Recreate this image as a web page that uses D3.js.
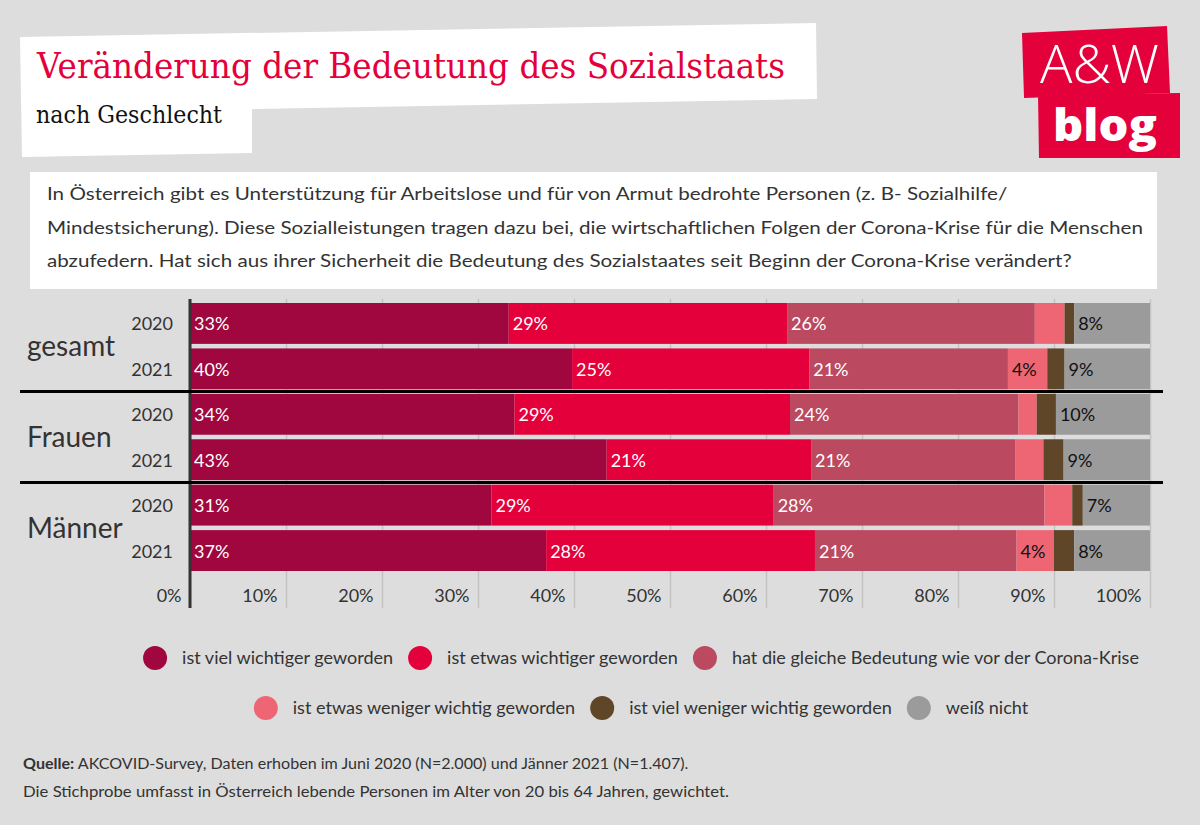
<!DOCTYPE html>
<html><head><meta charset="utf-8">
<script src="https://cdn.jsdelivr.net/npm/d3@7"></script>
<style>
html,body{margin:0;padding:0;background:#dddddd;}
svg{display:block;}
</style></head><body>
<svg id="c" width="1200" height="825"></svg>
<script>
// ---------- DATA ----------
const groups = ["gesamt", "Frauen", "Männer"];
const years = ["2020", "2021"];
const categories = [
  "ist viel wichtiger geworden",
  "ist etwas wichtiger geworden",
  "hat die gleiche Bedeutung wie vor der Corona-Krise",
  "ist etwas weniger wichtig geworden",
  "ist viel weniger wichtig geworden",
  "weiß nicht"
];
const colors = ["#a0073f", "#e4003b", "#bb4960", "#ee6674", "#5f4628", "#9b9b9b"];
// rows in order: gesamt 2020, gesamt 2021, Frauen 2020, Frauen 2021, Männer 2020, Männer 2021
const vielWichtiger   = [33.2, 39.8, 33.8, 43.4, 31.4, 37.1];
const etwasWichtiger  = [29.0, 24.7, 28.7, 21.3, 29.4, 28.0];
const gleich          = [25.8, 20.7, 23.8, 21.3, 28.2, 21.0];
const etwasWeniger    = [3.1, 4.1, 1.9, 2.9, 2.9, 3.9];
const vielWeniger     = [1.0, 1.8, 2.0, 2.1, 1.1, 2.1];
const weissNicht      = [7.9, 8.9, 9.8, 9.0, 7.0, 7.9];
const tickValues = [0, 10, 20, 30, 40, 50, 60, 70, 80, 90, 100];
const tickLabels = ["0%", "10%", "20%", "30%", "40%", "50%", "60%", "70%", "80%", "90%", "100%"];

const title = "Veränderung der Bedeutung des Sozialstaats";
const subtitle = "nach Geschlecht";
const questionLines = [
  "In Österreich gibt es Unterstützung für Arbeitslose und für von Armut bedrohte Personen (z. B- Sozialhilfe/",
  "Mindestsicherung). Diese Sozialleistungen tragen dazu bei, die wirtschaftlichen Folgen der Corona-Krise für die Menschen",
  "abzufedern. Hat sich aus ihrer Sicherheit die Bedeutung des Sozialstaates seit Beginn der Corona-Krise verändert?"
];
const sourceBold = "Quelle:";
const sourceLine1 = " AKCOVID-Survey, Daten erhoben im Juni 2020 (N=2.000) und Jänner 2021 (N=1.407).";
const sourceLine2 = "Die Stichprobe umfasst in Österreich lebende Personen im Alter von 20 bis 64 Jahren, gewichtet.";

// ---------- BUILD ----------
const series = [vielWichtiger, etwasWichtiger, gleich, etwasWeniger, vielWeniger, weissNicht];
const rows = [];
groups.forEach((g, gi) => years.forEach((y, yi) => {
  const i = gi * 2 + yi;
  const r = { id: g + "-" + y, group: g, year: y };
  categories.forEach((c, ci) => r[c] = series[ci][i]);
  rows.push(r);
}));

const svg = d3.select("#c");
const BODY = "Lato, 'Noto Sans', sans-serif";

// Title box
svg.append("polygon")
  .attr("points", "20,37 816,23 817,99 252,109 252,153 22,157")
  .attr("fill", "#ffffff");
svg.append("text").attr("x", 37).attr("y", 78)
  .attr("font-family", "'DejaVu Serif', serif").attr("font-size", 36)
  .attr("fill", "#e4003b").attr("textLength", 748).attr("lengthAdjust", "spacingAndGlyphs")
  .text(title);
svg.append("text").attr("x", 36).attr("y", 123)
  .attr("font-family", "'DejaVu Serif', serif").attr("font-size", 24)
  .attr("fill", "#111").attr("textLength", 186).attr("lengthAdjust", "spacingAndGlyphs")
  .text(subtitle);

// Logo
svg.append("polygon").attr("points", "1022,33 1167,26 1170,93 1024,98").attr("fill", "#e4003b");
svg.append("polygon").attr("points", "1038,95 1180,93 1180,158 1039,158").attr("fill", "#e4003b");
svg.append("text").attr("x", 1040).attr("y", 83)
  .attr("font-family", "'Open Sans', sans-serif").attr("font-weight", 300).attr("font-size", 54)
  .attr("fill", "#fff").attr("textLength", 119).attr("lengthAdjust", "spacingAndGlyphs").text("A&W");
svg.append("text").attr("x", 1053).attr("y", 141)
  .attr("font-family", "'Open Sans', sans-serif").attr("font-weight", 800).attr("font-size", 44)
  .attr("fill", "#fff").attr("textLength", 104).attr("lengthAdjust", "spacingAndGlyphs").text("blog");

// Question box
svg.append("rect").attr("x", 30).attr("y", 172).attr("width", 1127).attr("height", 117).attr("fill", "#fff");
const qT = svg.selectAll("text.q").data(questionLines).join("text").attr("class", "q")
  .attr("x", 47).attr("y", (d, i) => 200 + i * 33.5)
  .attr("font-family", BODY).attr("font-size", 18).attr("fill", "#333").text(d => d);
const qW = qT.nodes().map(n => n.getComputedTextLength());
const qF = 1096 / qW[1];
qT.attr("textLength", (d, i) => qW[i] * qF).attr("lengthAdjust", "spacingAndGlyphs");

// Scales
const x = d3.scaleLinear().domain([0, 100]).range([190, 1150]);
const yScale = d3.scaleBand().domain(rows.map(r => r.id)).range([303, 571]).paddingInner(0.1).paddingOuter(0);

// Gridlines
const gridG = svg.append("g").attr("transform", "translate(0,608)")
  .call(d3.axisBottom(x).tickValues(tickValues).tickSize(-309).tickFormat(""));
gridG.select(".domain").remove();
gridG.selectAll(".tick line").attr("stroke", "#c3c3c3").attr("stroke-width", 1.5);

// Bars
const stack = d3.stack().keys(categories)(rows);
const layers = svg.append("g").selectAll("g").data(stack).join("g")
  .attr("fill", (d, i) => colors[i]);
layers.selectAll("rect").data(d => d).join("rect")
  .attr("x", d => x(d[0])).attr("width", d => x(d[1]) - x(d[0]))
  .attr("y", d => yScale(d.data.id)).attr("height", yScale.bandwidth());

// Value labels
const labelG = svg.append("g");
stack.forEach((layer, li) => {
  labelG.selectAll(null).data(layer.filter(d => (d[1] - d[0]) >= 3.5)).join("text")
    .attr("x", d => x(d[0]) + 4)
    .attr("y", d => yScale(d.data.id) + yScale.bandwidth() / 2 + 7)
    .attr("font-family", BODY).attr("font-size", 18)
    .attr("fill", (li === 3 || li === 5) ? "#111" : "#fff")
    .text(d => Math.round(d[1] - d[0]) + "%");
});

// Axis (tick labels)
const axG = svg.append("g").attr("transform", "translate(0,580)")
  .call(d3.axisBottom(x).tickValues(tickValues).tickSize(0).tickFormat((d, i) => tickLabels[i]));
axG.select(".domain").remove();
axG.selectAll(".tick text").attr("text-anchor", "end").attr("dx", -9).attr("dy", 0).attr("y", 22)
  .attr("font-family", BODY).attr("font-size", 18).attr("fill", "#333");

// Vertical axis line
svg.append("line").attr("x1", x(0)).attr("x2", x(0)).attr("y1", 299).attr("y2", 608)
  .attr("stroke", "#333").attr("stroke-width", 3);

// Year labels
svg.append("g").selectAll("text").data(rows).join("text")
  .attr("x", 173).attr("y", d => yScale(d.id) + yScale.bandwidth() / 2 + 7)
  .attr("text-anchor", "end").attr("font-family", BODY).attr("font-size", 18).attr("fill", "#333")
  .text(d => d.year);

// Group labels + separators
groups.forEach((g, gi) => {
  const top = yScale(g + "-2020"), bot = yScale(g + "-2021") + yScale.bandwidth();
  svg.append("text").attr("x", 27).attr("y", (top + bot) / 2 + 10)
    .attr("font-family", BODY).attr("font-size", 28).attr("fill", "#333").text(g);
  if (gi > 0) {
    const yy = top - (yScale.step() - yScale.bandwidth()) / 2;
    svg.append("line").attr("x1", 20).attr("x2", 1163).attr("y1", yy).attr("y2", yy)
      .attr("stroke", "#000").attr("stroke-width", 3);
  }
});

// Legend
const legendRows = [[0, 1, 2], [3, 4, 5]];
const legG = svg.append("g");
const meas = legG.append("text").attr("font-family", BODY).attr("font-size", 17).text(categories[2]);
const legF = 407 / meas.node().getComputedTextLength();
meas.remove();
legendRows.forEach((idxs, ri) => {
  const cy = 658 + ri * 50;
  const items = idxs.map(ci => {
    const t = legG.append("text").attr("font-family", BODY).attr("font-size", 17).attr("fill", "#333")
      .attr("y", cy + 6).text(categories[ci]);
    const w = t.node().getComputedTextLength() * legF;
    t.attr("textLength", w).attr("lengthAdjust", "spacingAndGlyphs");
    return { ci, t, w };
  });
  const total = items.reduce((s, it) => s + 39 + it.w, 0) + 15 * (items.length - 1);
  let sx = 641 - total / 2;
  items.forEach(it => {
    legG.append("circle").attr("cx", sx + 12).attr("cy", cy).attr("r", 12).attr("fill", colors[it.ci]);
    it.t.attr("x", sx + 39);
    sx += 39 + it.w + 15;
  });
});

// Footer
const f2 = svg.append("text").attr("x", 23).attr("y", 797)
  .attr("font-family", BODY).attr("font-size", 16).attr("fill", "#333").text(sourceLine2);
const f2w = f2.node().getComputedTextLength();
f2.attr("textLength", 706).attr("lengthAdjust", "spacingAndGlyphs");
const f1g = svg.append("g").attr("transform", "translate(23,769)");
const f1 = f1g.append("text").attr("x", 0).attr("y", 0)
  .attr("font-family", BODY).attr("font-size", 16).attr("fill", "#333");
f1.append("tspan").attr("font-weight", 700).text(sourceBold);
f1.append("tspan").text(sourceLine1);
const f1w = f1.node().getComputedTextLength();
f1g.attr("transform", `translate(23,769) scale(${666 / f1w},1)`);
</script>
</body></html>
